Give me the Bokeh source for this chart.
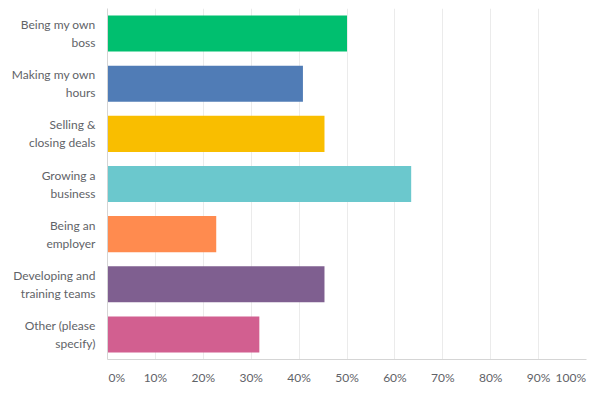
from bokeh.plotting import figure
from bokeh.models import ColumnDataSource, FactorRange, Range1d, FixedTicker
from bokeh.embed import file_html
from bokeh.resources import INLINE

categories = ["Being my own\nboss", "Making my own\nhours", "Selling &\nclosing deals",
              "Growing a\nbusiness", "Being an\nemployer", "Developing and\ntraining teams",
              "Other (please\nspecify)"]
values = [50.0, 40.8, 45.3, 63.4, 22.7, 45.3, 31.7]
colors = ["#00bf6f", "#507cb6", "#f9be00", "#6bc8cd", "#ff8b4f", "#7f5f90", "#d25f90"]
tick_values = [0, 10, 20, 30, 40, 50, 60, 70, 80, 90, 100]
tick_labels = ["0%", "10%", "20%", "30%", "40%", "50%", "60%", "70%", "80%", "90%", "100%"]

FONT = "Lato"
SIZE = "12px"
TEXT = "#5f6368"
NB = "\u00a0"

src = ColumnDataSource(dict(cat=categories, val=values, color=colors))

p = figure(width=604, height=395, output_backend="svg", toolbar_location=None,
           y_range=FactorRange(*reversed(categories)), x_range=Range1d(0, 100),
           min_border_left=107, min_border_right=18, min_border_top=8, min_border_bottom=36)
p.hbar(y="cat", right="val", left=0, height=0.72, color="color", source=src, line_color=None)

p.outline_line_color = None
p.ygrid.grid_line_color = None
p.xgrid.grid_line_color = "#ebebeb"
p.xaxis.ticker = FixedTicker(ticks=tick_values)
overrides = dict(zip(tick_values, tick_labels))
# end labels sit inside the axis span (left-aligned at 0%, right-aligned at 100%)
overrides[tick_values[0]] = NB * 6 + tick_labels[0]
overrides[tick_values[-1]] = tick_labels[-1] + NB * 6
p.xaxis.major_label_overrides = overrides
for ax in (p.xaxis, p.yaxis):
    ax.axis_line_color = "#d5d5d5"
    ax.major_tick_line_color = None
    ax.minor_tick_line_color = None
    ax.major_label_text_font = FONT
    ax.major_label_text_font_size = SIZE
    ax.major_label_text_color = TEXT
p.xaxis.major_label_standoff = 4
p.yaxis.major_label_standoff = 6

open("out.html", "w").write(file_html(p, INLINE))
